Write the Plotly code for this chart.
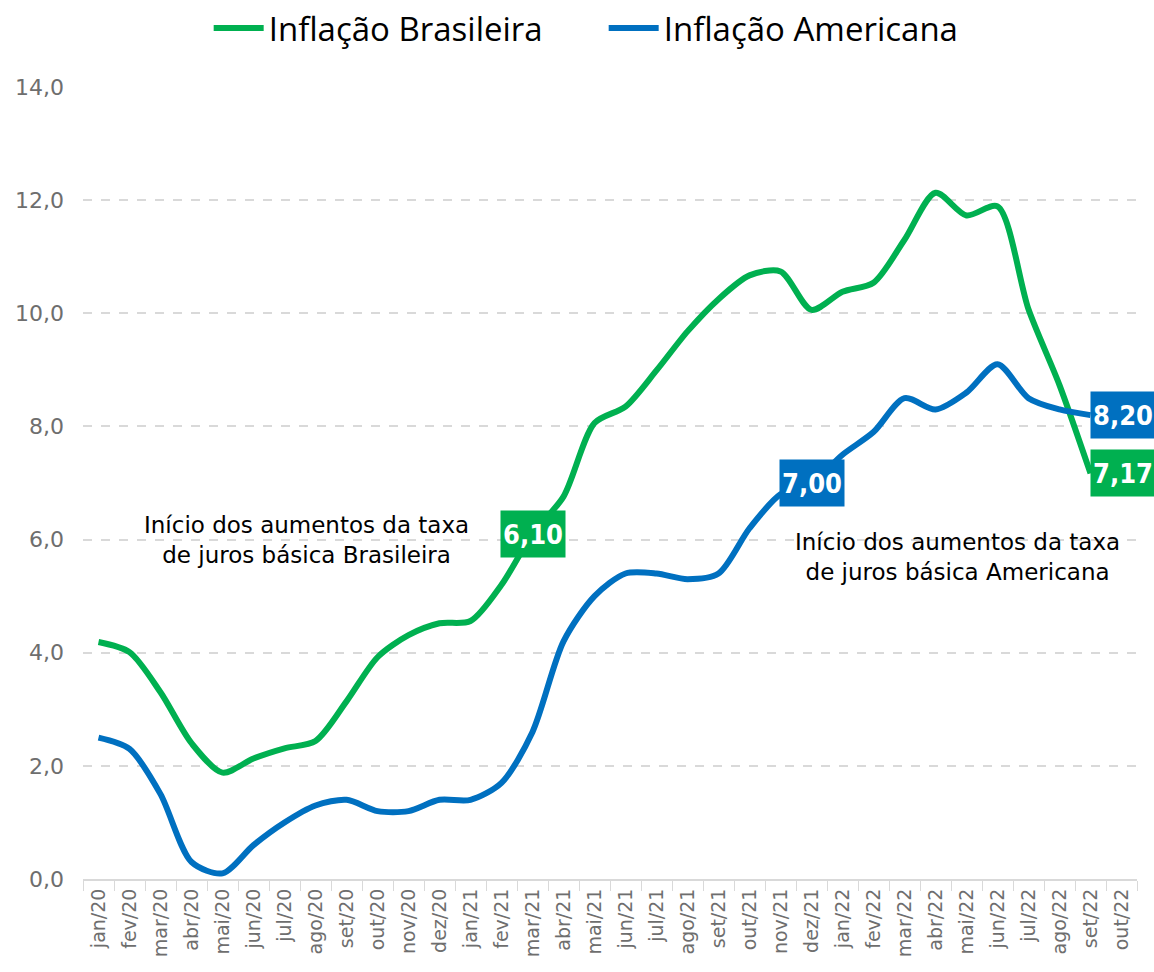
import plotly.graph_objects as go

meses = ["jan/20","fev/20","mar/20","abr/20","mai/20","jun/20","jul/20","ago/20","set/20","out/20","nov/20","dez/20",
         "jan/21","fev/21","mar/21","abr/21","mai/21","jun/21","jul/21","ago/21","set/21","out/21","nov/21","dez/21",
         "jan/22","fev/22","mar/22","abr/22","mai/22","jun/22","jul/22","ago/22","set/22","out/22"]

brasil = [4.19, 4.01, 3.30, 2.40, 1.88, 2.13, 2.31, 2.44, 3.14, 3.92, 4.31, 4.52,
          4.56, 5.20, 6.10, 6.76, 8.06, 8.35, 8.99, 9.68, 10.25, 10.67, 10.74, 10.06,
          10.38, 10.54, 11.30, 12.13, 11.73, 11.89, 10.07, 8.73, 7.17, None]

eua = [2.5, 2.3, 1.5, 0.3, 0.1, 0.6, 1.0, 1.3, 1.4, 1.2, 1.2, 1.4,
       1.4, 1.7, 2.6, 4.2, 5.0, 5.4, 5.4, 5.3, 5.4, 6.2, 6.8, 7.0,
       7.5, 7.9, 8.5, 8.3, 8.6, 9.1, 8.5, 8.3, 8.2, None]

verde = "#00B050"
azul = "#0070C0"

fig = go.Figure()
fig.add_trace(go.Scatter(x=meses, y=brasil, mode="lines", name="Inflação Brasileira",
                         line=dict(color=verde, width=6, shape="spline", smoothing=0.8)))
fig.add_trace(go.Scatter(x=meses, y=eua, mode="lines", name="Inflação Americana",
                         line=dict(color=azul, width=6, shape="spline", smoothing=0.8)))

label_font = dict(family="DejaVu Sans Condensed, DejaVu Sans, sans-serif", size=27, color="white")

def data_label(x, y, color, xshift=0):
    fig.add_annotation(x=x, y=y, text="<b>" + f"{y:.2f}".replace(".", ",") + "</b>",
                       showarrow=False, bgcolor=color, font=label_font,
                       width=62, height=44, borderpad=1, xshift=xshift)

data_label("mar/21", brasil[14], verde)
data_label("dez/21", eua[23], azul)
data_label("set/22", eua[32], azul, xshift=32)
data_label("set/22", brasil[32], verde, xshift=32)

ann_font = dict(family="DejaVu Sans, sans-serif", size=23, color="black")
fig.add_annotation(x=6.7, y=6.0, text="Início dos aumentos da taxa<br>de juros básica Brasileira",
                   showarrow=False, font=ann_font, align="center")
fig.add_annotation(x=27.7, y=5.7, text="Início dos aumentos da taxa<br>de juros básica Americana",
                   showarrow=False, font=ann_font, align="center")

fig.update_layout(
    width=1154, height=972,
    paper_bgcolor="white", plot_bgcolor="white",
    margin=dict(l=83, r=17, t=87, b=93),
    separators=",.",
    showlegend=True,
    legend=dict(orientation="h", x=0.494, xanchor="center", y=1.0, yref="container", yanchor="top",
                font=dict(family="Open Sans, sans-serif", size=33, color="black"),
                itemwidth=50, entrywidth=330, tracegroupgap=0),
    xaxis=dict(type="category", tickangle=-90, tickson="boundaries", ticks="outside", ticklen=10,
               tickcolor="#D9D9D9", showline=True, linecolor="#D9D9D9", linewidth=2,
               showgrid=False, range=[-0.5, 33.5], automargin=False,
               tickfont=dict(family="DejaVu Sans, sans-serif", size=19, color="#6E6E6E")),
    yaxis=dict(range=[0, 14], dtick=2, tickformat=".1f", showgrid=True, gridcolor="#D9D9D9",
               griddash="dash", gridwidth=1.5, zeroline=False, showline=False, automargin=False,
               tickfont=dict(family="DejaVu Sans, sans-serif", size=22, color="#6E6E6E"),
               ticklabelstandoff=18),
)

fig.write_html("out.html", post_script="document.body.style.margin='0';",
               config={"displayModeBar": False})
